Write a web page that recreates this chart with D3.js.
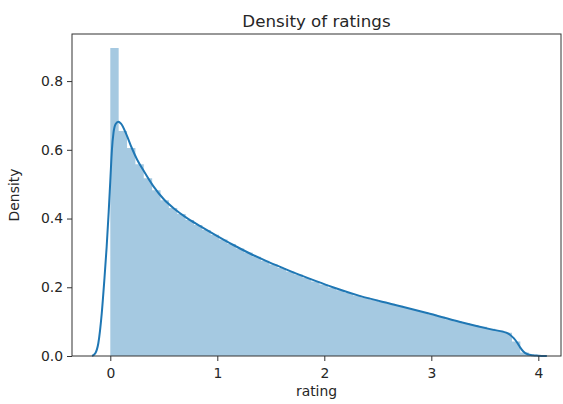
<!DOCTYPE html>
<html>
<head>
<meta charset="utf-8">
<script src="https://cdn.jsdelivr.net/npm/d3@7"></script>
<style>
  html, body { margin: 0; padding: 0; background: #fff; }
  svg { display: block; font-family: "DejaVu Sans", sans-serif; }
</style>
</head>
<body>
<svg id="chart" width="563" height="404"></svg>
<script>
// Histogram of ratings: bins start at 0, equal width
const binStart = 0;
const binWidth = 0.0782;
const histHeights = [
  0.896, 0.655, 0.605, 0.558, 0.517, 0.482, 0.453, 0.431, 0.413, 0.396,
  0.381, 0.367, 0.353, 0.339, 0.326, 0.313, 0.301, 0.289, 0.277, 0.266,
  0.256, 0.246, 0.237, 0.227, 0.217, 0.208, 0.199, 0.191, 0.183, 0.176,
  0.170, 0.164, 0.158, 0.152, 0.146, 0.140, 0.134, 0.128, 0.121, 0.114,
  0.107, 0.101, 0.095, 0.090, 0.085, 0.079, 0.074, 0.068, 0.042, 0.010
];

// Kernel density estimate of the same ratings
const kdeX = [
  -0.17, -0.14, -0.112, -0.08, -0.056, -0.034, -0.015, 0.0, 0.015, 0.03,
  0.05, 0.075, 0.1, 0.15, 0.2, 0.25, 0.3, 0.4, 0.5, 0.6,
  0.7, 0.84, 1.0, 1.15, 1.3, 1.46, 1.62, 1.77, 1.93, 2.08,
  2.33, 2.645, 2.96, 3.27, 3.58, 3.7, 3.735, 3.77, 3.8, 3.83,
  3.86, 3.9, 3.95, 4.0, 4.08
];
const kdeY = [
  0.0, 0.008, 0.037, 0.124, 0.22, 0.318, 0.42, 0.51, 0.60, 0.65,
  0.675, 0.682, 0.676, 0.645, 0.606, 0.572, 0.545, 0.495, 0.456, 0.428,
  0.405, 0.378, 0.349, 0.323, 0.299, 0.276, 0.255, 0.236, 0.217, 0.200,
  0.175, 0.150, 0.125, 0.099, 0.076, 0.068, 0.062, 0.052, 0.040, 0.025,
  0.013, 0.005, 0.002, 0.001, 0.0
];

const xTicks = [0, 1, 2, 3, 4];
const yTicks = [0.0, 0.2, 0.4, 0.6, 0.8];
const xDomain = [-0.358, 4.212];
const yDomain = [0, 0.937];

const margin = { left: 72, right: 561, top: 34, bottom: 356 };
const blue = "#1f77b4";

const svg = d3.select("#chart");
const x = d3.scaleLinear().domain(xDomain).range([margin.left, margin.right]);
const y = d3.scaleLinear().domain(yDomain).range([margin.bottom, margin.top]);

// histogram drawn as one stepped area so neighbouring bars don't seam
const steps = histHeights.map((h, i) => ({ x: binStart + i * binWidth, h }));
steps.push({ x: binStart + histHeights.length * binWidth, h: histHeights[histHeights.length - 1] });
const histArea = d3.area()
  .x(d => x(d.x))
  .y0(y(0))
  .y1(d => y(d.h))
  .curve(d3.curveStepAfter);
svg.append("path")
  .datum(steps)
  .attr("d", histArea)
  .attr("fill", blue)
  .attr("fill-opacity", 0.4);

// density curve
const kde = kdeX.map((v, i) => [v, kdeY[i]]);
svg.append("path")
  .datum(kde)
  .attr("d", d3.line().x(d => x(d[0])).y(d => y(d[1])).curve(d3.curveMonotoneX))
  .attr("fill", "none")
  .attr("stroke", blue)
  .attr("stroke-width", 2)
  .attr("stroke-linejoin", "round");

// axes
const xAxis = d3.axisBottom(x).tickValues(xTicks).tickFormat(d3.format("d"))
  .tickSize(5).tickPadding(4);
const yAxis = d3.axisLeft(y).tickValues(yTicks).tickFormat(d3.format(".1f"))
  .tickSize(5).tickPadding(4);

const gx = svg.append("g").attr("transform", `translate(0,${margin.bottom})`).call(xAxis);
const gy = svg.append("g").attr("transform", `translate(${margin.left},0)`).call(yAxis);
[gx, gy].forEach(g => {
  g.select(".domain").remove();
  g.selectAll(".tick line").attr("stroke", "#333").attr("stroke-width", 1);
  g.selectAll(".tick text").attr("fill", "#262626")
    .style("font-family", "'DejaVu Sans', sans-serif").style("font-size", "13.9px");
});
gx.selectAll(".tick text").attr("dy", "0.95em");

// frame
svg.append("rect")
  .attr("x", margin.left).attr("y", margin.top)
  .attr("width", margin.right - margin.left).attr("height", margin.bottom - margin.top)
  .attr("fill", "none").attr("stroke", "#333").attr("stroke-width", 1);

// labels
svg.append("text")
  .attr("x", (margin.left + margin.right) / 2).attr("y", 26.5)
  .attr("text-anchor", "middle").attr("fill", "#262626")
  .style("font-size", "16.7px")
  .text("Density of ratings");

svg.append("text")
  .attr("x", (margin.left + margin.right) / 2).attr("y", 396)
  .attr("text-anchor", "middle").attr("fill", "#262626")
  .style("font-size", "13.9px")
  .text("rating");

svg.append("text")
  .attr("transform", `translate(18.5,${(margin.top + margin.bottom) / 2}) rotate(-90)`)
  .attr("text-anchor", "middle").attr("fill", "#262626")
  .style("font-size", "13.9px")
  .text("Density");
</script>
</body>
</html>
